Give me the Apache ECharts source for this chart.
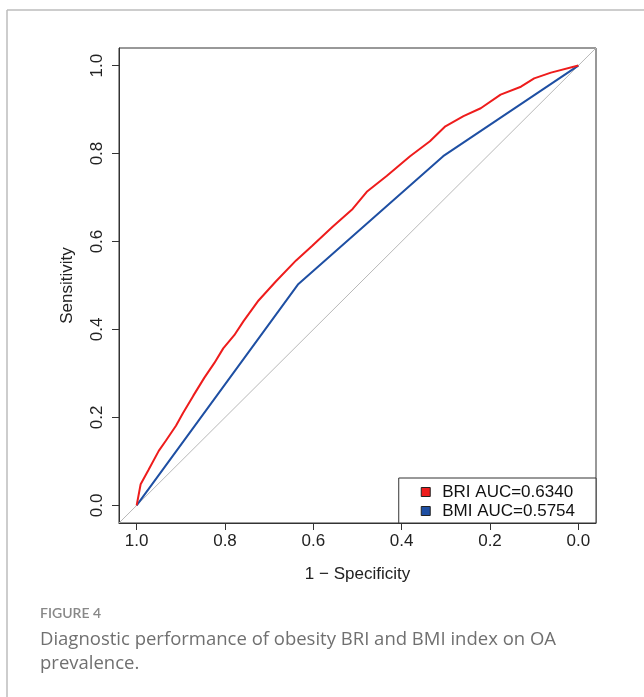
<!DOCTYPE html>
<html>
<head>
<meta charset="utf-8">
<script src="https://cdn.jsdelivr.net/npm/echarts@6/dist/echarts.min.js"></script>
<style>
  html, body { margin: 0; padding: 0; background: #fff; }
  #roc-chart { width: 644px; height: 697px; }
</style>
</head>
<body>
<div id="roc-chart"></div>
<script>
// ROC points: specificity (x, reversed axis) and sensitivity (y)
const briSpec = [1.0, 0.991, 0.973, 0.950, 0.934, 0.911, 0.895, 0.872, 0.847, 0.824, 0.804, 0.779, 0.758,
    0.724, 0.685, 0.639, 0.603, 0.557, 0.511, 0.479, 0.434, 0.381, 0.336, 0.301, 0.260, 0.221, 0.176,
    0.130, 0.100, 0.062, 0.0];
const briSens = [0.0, 0.048, 0.081, 0.124, 0.147, 0.181, 0.210, 0.249, 0.290, 0.324, 0.357, 0.387, 0.419,
    0.466, 0.509, 0.557, 0.590, 0.633, 0.674, 0.713, 0.749, 0.794, 0.828, 0.862, 0.885, 0.903, 0.934,
    0.952, 0.971, 0.984, 1.0];
const bmiSpec = [1.0, 0.635, 0.306, 0.0];
const bmiSens = [0.0, 0.502, 0.794, 1.0];
const diagonal = [[1.04, -0.04], [-0.04, 1.04]];
const tickValues = [0, 0.2, 0.4, 0.6, 0.8, 1.0];
const legendNames = ["BRI AUC=0.6340", "BMI AUC=0.5754"];

const zip = (xs, ys) => xs.map((x, i) => [x, ys[i]]);

const chart = echarts.init(document.getElementById("roc-chart"));
const axisFont = { fontFamily: "Liberation Sans", fontSize: 17, color: "#222" };

chart.setOption({
    animation: false,
    grid: {
        left: 119, right: 48, top: 48, bottom: 174,
        show: true, borderColor: "#333", borderWidth: 1
    },
    xAxis: {
        type: "value",
        inverse: true,
        min: -0.04, max: 1.04,
        name: "1 \u2212 Specificity",
        nameLocation: "middle",
        nameGap: 43,
        nameTextStyle: axisFont,
        axisLine: { show: true, onZero: false, lineStyle: { color: "#333" } },
        axisTick: { show: true, customValues: tickValues, length: 7, lineStyle: { color: "#333" } },
        axisLabel: { customValues: tickValues, margin: 10, formatter: (v) => v.toFixed(1), ...axisFont },
        splitLine: { show: false }
    },
    yAxis: {
        type: "value",
        min: -0.04, max: 1.04,
        name: "Sensitivity",
        nameLocation: "middle",
        nameGap: 43,
        nameTextStyle: axisFont,
        axisLine: { show: true, onZero: false, lineStyle: { color: "#333" } },
        axisTick: { show: true, customValues: tickValues, length: 7, lineStyle: { color: "#333" } },
        axisLabel: { customValues: tickValues, rotate: 90, margin: 13, formatter: (v) => v.toFixed(1), ...axisFont },
        splitLine: { show: false }
    },
    legend: {
        data: legendNames,
        orient: "vertical",
        right: 48, bottom: 174,
        icon: "rect",
        itemWidth: 9, itemHeight: 9,
        itemGap: 1,
        padding: [5, 21, 3, 22],
        borderColor: "#333", borderWidth: 1,
        backgroundColor: "#fff",
        itemStyle: { borderColor: "#222", borderWidth: 1 },
        textStyle: { fontFamily: "Liberation Sans", fontSize: 17, color: "#111", lineHeight: 18, padding: [0, 0, 0, 7] }
    },
    series: [
        {
            type: "line", data: diagonal, symbol: "none", silent: true,
            lineStyle: { color: "#b8b8b8", width: 1 }, z: 1
        },
        {
            name: legendNames[1], type: "line", data: zip(bmiSpec, bmiSens), symbol: "none",
            color: "#1e4fa3", lineStyle: { color: "#1e4fa3", width: 2 }, z: 2
        },
        {
            name: legendNames[0], type: "line", data: zip(briSpec, briSens), symbol: "none",
            color: "#ee1c1c", lineStyle: { color: "#ee1c1c", width: 2 }, z: 3
        }
    ],
    graphic: [
        { type: "line", shape: { x1: 7, y1: 10, x2: 644, y2: 10 }, style: { stroke: "#bcbcbc", lineWidth: 1.5 } },
        { type: "line", shape: { x1: 7, y1: 10, x2: 7, y2: 697 }, style: { stroke: "#bcbcbc", lineWidth: 1.5 } },
        {
            type: "text", left: 40, top: 606,
            style: { text: "FIGURE 4", fontFamily: "Lato", fontSize: 14, fontWeight: 600, fill: "#888" }
        },
        {
            type: "text", left: 40, top: 628,
            style: {
                text: "Diagnostic performance of obesity BRI and BMI index on OA\nprevalence.",
                fontFamily: "Open Sans", fontSize: 18.5, lineHeight: 24, fill: "#707070"
            }
        }
    ]
});
</script>
</body>
</html>
